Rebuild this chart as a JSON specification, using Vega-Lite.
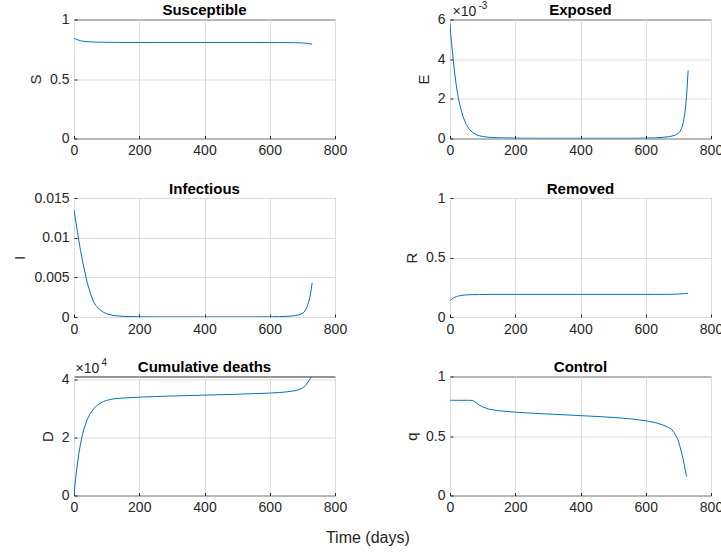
{
  "$schema": "https://vega.github.io/schema/vega-lite/v6.json",
  "background": "white",
  "padding": {"left": 12, "top": 0.5, "right": 0, "bottom": 0},
  "data": {"values": [
    {"t": 0, "S": 0.843, "E": 0.0058, "I": 0.0135, "R": 0.137, "D": 0, "q": 0.8},
    {"t": 2, "S": 0.840, "E": 0.0053, "I": 0.0130, "R": 0.141, "D": 2500, "q": 0.8},
    {"t": 5, "S": 0.836, "E": 0.0048, "I": 0.0122, "R": 0.148, "D": 5800, "q": 0.8},
    {"t": 10, "S": 0.830, "E": 0.00395, "I": 0.0109, "R": 0.158, "D": 10500, "q": 0.8},
    {"t": 15, "S": 0.826, "E": 0.0032, "I": 0.0096, "R": 0.166, "D": 14500, "q": 0.8},
    {"t": 20, "S": 0.822, "E": 0.0026, "I": 0.0084, "R": 0.172, "D": 17800, "q": 0.8},
    {"t": 25, "S": 0.819, "E": 0.0021, "I": 0.0073, "R": 0.176, "D": 20500, "q": 0.8},
    {"t": 30, "S": 0.817, "E": 0.0017, "I": 0.0063, "R": 0.179, "D": 22700, "q": 0.8},
    {"t": 40, "S": 0.814, "E": 0.0011, "I": 0.0044, "R": 0.183, "D": 26000, "q": 0.8},
    {"t": 50, "S": 0.812, "E": 0.0007, "I": 0.0030, "R": 0.186, "D": 28200, "q": 0.8},
    {"t": 60, "S": 0.811, "E": 0.00045, "I": 0.0019, "R": 0.187, "D": 29800, "q": 0.8},
    {"t": 70, "S": 0.810, "E": 0.0003, "I": 0.0013, "R": 0.188, "D": 30900, "q": 0.798},
    {"t": 80, "S": 0.809, "E": 0.0002, "I": 0.0009, "R": 0.188, "D": 31700, "q": 0.78},
    {"t": 90, "S": 0.809, "E": 0.00014, "I": 0.0006, "R": 0.189, "D": 32300, "q": 0.76},
    {"t": 100, "S": 0.808, "E": 0.0001, "I": 0.0004, "R": 0.189, "D": 32700, "q": 0.745},
    {"t": 120, "S": 0.808, "E": 0.00006, "I": 0.0002, "R": 0.19, "D": 33200, "q": 0.725},
    {"t": 150, "S": 0.807, "E": 0.000035, "I": 0.00008, "R": 0.19, "D": 33500, "q": 0.712},
    {"t": 200, "S": 0.807, "E": 0.00002, "I": 0.00003, "R": 0.19, "D": 33800, "q": 0.70},
    {"t": 250, "S": 0.807, "E": 0.000014, "I": 0.000015, "R": 0.19, "D": 34000, "q": 0.692},
    {"t": 300, "S": 0.807, "E": 0.000012, "I": 0.000015, "R": 0.19, "D": 34200, "q": 0.685},
    {"t": 350, "S": 0.807, "E": 0.000011, "I": 0.000015, "R": 0.19, "D": 34350, "q": 0.678},
    {"t": 400, "S": 0.807, "E": 0.000011, "I": 0.000015, "R": 0.19, "D": 34500, "q": 0.671},
    {"t": 450, "S": 0.807, "E": 0.000011, "I": 0.000015, "R": 0.19, "D": 34650, "q": 0.664},
    {"t": 500, "S": 0.807, "E": 0.000011, "I": 0.000015, "R": 0.19, "D": 34800, "q": 0.656},
    {"t": 550, "S": 0.807, "E": 0.000011, "I": 0.000015, "R": 0.19, "D": 35000, "q": 0.645},
    {"t": 600, "S": 0.806, "E": 0.00002, "I": 0.00003, "R": 0.19, "D": 35200, "q": 0.628},
    {"t": 630, "S": 0.806, "E": 0.000035, "I": 0.00005, "R": 0.19, "D": 35400, "q": 0.612},
    {"t": 650, "S": 0.806, "E": 0.000055, "I": 0.00008, "R": 0.19, "D": 35600, "q": 0.595},
    {"t": 670, "S": 0.805, "E": 0.00009, "I": 0.00014, "R": 0.191, "D": 35900, "q": 0.572},
    {"t": 680, "S": 0.805, "E": 0.00012, "I": 0.0002, "R": 0.191, "D": 36100, "q": 0.555},
    {"t": 690, "S": 0.804, "E": 0.00017, "I": 0.00028, "R": 0.192, "D": 36400, "q": 0.515},
    {"t": 700, "S": 0.803, "E": 0.00026, "I": 0.00045, "R": 0.193, "D": 36900, "q": 0.46},
    {"t": 705, "S": 0.802, "E": 0.00035, "I": 0.0006, "R": 0.194, "D": 37300, "q": 0.41},
    {"t": 710, "S": 0.800, "E": 0.00052, "I": 0.0009, "R": 0.195, "D": 37900, "q": 0.36},
    {"t": 715, "S": 0.799, "E": 0.0008, "I": 0.00135, "R": 0.196, "D": 38600, "q": 0.30},
    {"t": 720, "S": 0.797, "E": 0.0013, "I": 0.002, "R": 0.197, "D": 39500, "q": 0.23},
    {"t": 725, "S": 0.795, "E": 0.0021, "I": 0.0029, "R": 0.198, "D": 40300, "q": 0.16},
    {"t": 730, "S": 0.792, "E": 0.00343, "I": 0.0043, "R": 0.2, "D": 41000, "q": null}
  ]},
  "title": {"text": "Time (days)", "orient": "bottom", "anchor": "middle", "fontSize": 16, "fontWeight": "normal", "color": "#262626", "offset": 15},
  "columns": 2,
  "spacing": {"row": 59.5, "column": 115},
  "bounds": "flush",
  "concat": [
    {
      "title": {"text": "Susceptible", "offset": -5.5}, "width": 261, "height": 119,
      "mark": {"type": "line", "clip": true},
      "encoding": {
        "x": {"field": "t", "type": "quantitative", "scale": {"domain": [0, 800], "nice": false}, "axis": {"values": [0, 200, 400, 600, 800], "labelExpr": "datum.value + ''", "title": null}},
        "y": {"field": "S", "type": "quantitative", "scale": {"domain": [0, 1], "nice": false}, "axis": {"values": [0, 0.5, 1], "labelExpr": "datum.value + ''", "title": "S"}}
      }
    },
    {
      "title": {"text": "Exposed", "offset": -17}, "width": 261, "height": 119,
      "encoding": {
        "x": {"field": "t", "type": "quantitative", "scale": {"domain": [0, 800], "nice": false}, "axis": {"values": [0, 200, 400, 600, 800], "labelExpr": "datum.value + ''", "title": null}},
        "y": {"field": "E", "type": "quantitative", "scale": {"domain": [0, 0.006], "nice": false}, "axis": {"values": [0, 0.002, 0.004, 0.006], "labelExpr": "round(datum.value*1000) + ''", "title": "E"}}
      },
      "layer": [
        {"mark": {"type": "line", "clip": true}},
        {
          "data": {"values": [{"txt": "×10", "x0": 0, "y0": 0.006}]},
          "mark": {"type": "text", "align": "left", "baseline": "alphabetic", "dx": 2.5, "dy": -4, "fontSize": 14, "color": "#262626"},
          "encoding": {"x": {"field": "x0", "type": "quantitative"}, "y": {"field": "y0", "type": "quantitative"}, "text": {"field": "txt"}}
        },
        {
          "data": {"values": [{"txt": "-3", "x0": 0, "y0": 0.006}]},
          "mark": {"type": "text", "align": "left", "baseline": "alphabetic", "dx": 28.5, "dy": -10.5, "fontSize": 10, "color": "#262626"},
          "encoding": {"x": {"field": "x0", "type": "quantitative"}, "y": {"field": "y0", "type": "quantitative"}, "text": {"field": "txt"}}
        }
      ]
    },
    {
      "title": {"text": "Infectious", "offset": -5.5}, "width": 261, "height": 119,
      "mark": {"type": "line", "clip": true},
      "encoding": {
        "x": {"field": "t", "type": "quantitative", "scale": {"domain": [0, 800], "nice": false}, "axis": {"values": [0, 200, 400, 600, 800], "labelExpr": "datum.value + ''", "title": null}},
        "y": {"field": "I", "type": "quantitative", "scale": {"domain": [0, 0.015], "nice": false}, "axis": {"values": [0, 0.005, 0.01, 0.015], "labelExpr": "datum.value + ''", "title": "I"}}
      }
    },
    {
      "title": {"text": "Removed", "offset": -5.5}, "width": 261, "height": 119,
      "mark": {"type": "line", "clip": true},
      "encoding": {
        "x": {"field": "t", "type": "quantitative", "scale": {"domain": [0, 800], "nice": false}, "axis": {"values": [0, 200, 400, 600, 800], "labelExpr": "datum.value + ''", "title": null}},
        "y": {"field": "R", "type": "quantitative", "scale": {"domain": [0, 1], "nice": false}, "axis": {"values": [0, 0.5, 1], "labelExpr": "datum.value + ''", "title": "R"}}
      }
    },
    {
      "title": {"text": "Cumulative deaths", "offset": -17}, "width": 261, "height": 119,
      "encoding": {
        "x": {"field": "t", "type": "quantitative", "scale": {"domain": [0, 800], "nice": false}, "axis": {"values": [0, 200, 400, 600, 800], "labelExpr": "datum.value + ''", "title": null}},
        "y": {"field": "D", "type": "quantitative", "scale": {"domain": [0, 40900], "nice": false}, "axis": {"values": [0, 20000, 40000], "labelExpr": "round(datum.value/10000) + ''", "title": "D"}}
      },
      "layer": [
        {"mark": {"type": "line", "clip": true}},
        {
          "data": {"values": [{"txt": "×10", "x0": 0, "y0": 40900}]},
          "mark": {"type": "text", "align": "left", "baseline": "alphabetic", "dx": 1.5, "dy": -4, "fontSize": 14, "color": "#262626"},
          "encoding": {"x": {"field": "x0", "type": "quantitative"}, "y": {"field": "y0", "type": "quantitative"}, "text": {"field": "txt"}}
        },
        {
          "data": {"values": [{"txt": "4", "x0": 0, "y0": 40900}]},
          "mark": {"type": "text", "align": "left", "baseline": "alphabetic", "dx": 27.5, "dy": -10.5, "fontSize": 10, "color": "#262626"},
          "encoding": {"x": {"field": "x0", "type": "quantitative"}, "y": {"field": "y0", "type": "quantitative"}, "text": {"field": "txt"}}
        }
      ]
    },
    {
      "title": {"text": "Control", "offset": -5.5}, "width": 261, "height": 119,
      "mark": {"type": "line", "clip": true},
      "encoding": {
        "x": {"field": "t", "type": "quantitative", "scale": {"domain": [0, 800], "nice": false}, "axis": {"values": [0, 200, 400, 600, 800], "labelExpr": "datum.value + ''", "title": null}},
        "y": {"field": "q", "type": "quantitative", "scale": {"domain": [0, 1], "nice": false}, "axis": {"values": [0, 0.5, 1], "labelExpr": "datum.value + ''", "title": "q"}}
      }
    }
  ],
  "config": {
    "font": "Liberation Sans",
    "view": {"stroke": "#262626", "strokeWidth": 1},
    "axis": {
      "domain": false, "ticks": true, "tickSize": -3, "tickColor": "#262626", "tickWidth": 1,
      "labelFontSize": 14, "labelColor": "#262626", "labelFont": "Liberation Sans",
      "titleColor": "#262626", "titleFontSize": 15, "titleFontWeight": "normal", "titleFont": "Liberation Sans",
      "gridColor": "#dcdcdc", "gridOpacity": 1, "gridWidth": 1, "labelPadding": 8, "titlePadding": 6,
      "labelFlush": false, "labelOverlap": false
    },
    "title": {"fontSize": 15, "fontWeight": "bold", "color": "#000000", "font": "Liberation Sans"},
    "line": {"color": "#0072BD", "strokeWidth": 1},
    "text": {"font": "Liberation Sans"}
  }
}
